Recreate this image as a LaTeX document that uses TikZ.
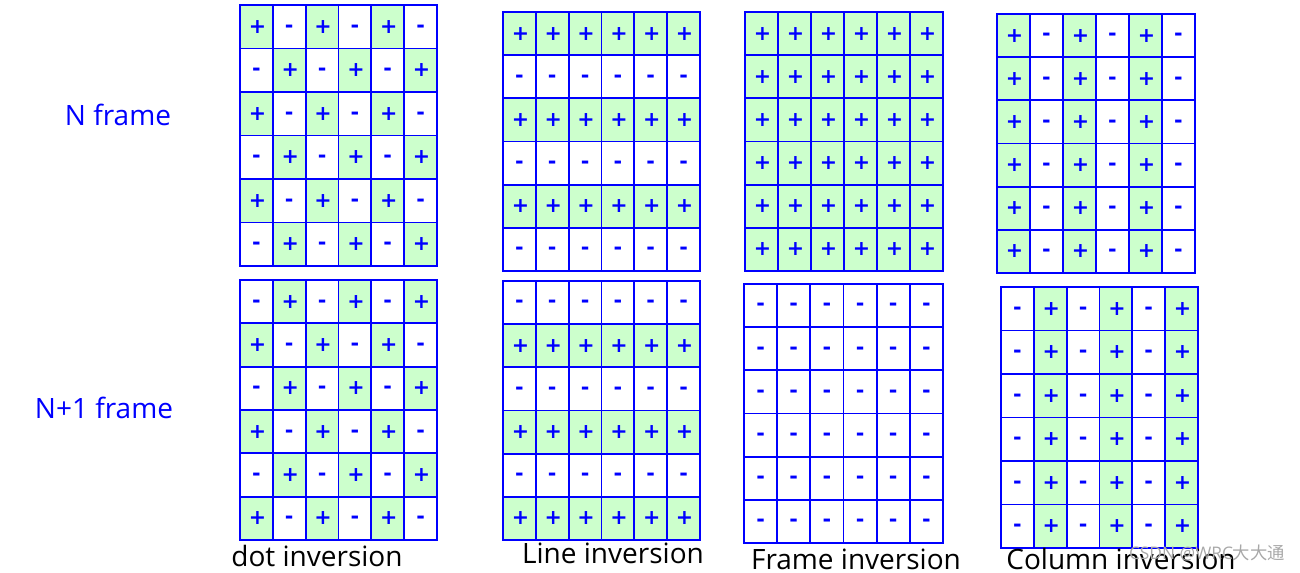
\documentclass[tikz,border=0pt]{standalone}
\usepackage{fontspec}
\setmainfont{Open Sans}
\newfontfamily\signfont{DejaVu Sans Bold}
\newfontfamily\cjkfont{Noto Sans CJK SC}
\definecolor{cellgreen}{HTML}{CCFFCC}
\definecolor{gridblue}{HTML}{0000FF}
\definecolor{wmgray}{HTML}{A8A8A8}
\newcommand\invgrid[6]{%
  \pgfmathsetmacro\cw{(#4-#2)/6}%
  \pgfmathsetmacro\ch{(#5-#3)/6}%
  \foreach \r in {0,...,5}{\foreach \c in {0,...,5}{%
    \pgfmathtruncatemacro\isplus{(#6==0)*(mod(\r+\c,2)==0)+(#6==1)*(mod(\r+\c,2)==1)+(#6==2)*(mod(\r,2)==0)+(#6==3)*(mod(\r,2)==1)+(#6==4)+(#6==6)*(mod(\c,2)==0)+(#6==7)*(mod(\c,2)==1)}%
    \ifnum\isplus=1
      \node[cell,fill=cellgreen,minimum width=\cw*0.75pt,minimum height=\ch*0.75pt] (#1-\r-\c) at ({#2+(\c+0.5)*\cw},{#3+(\r+0.5)*\ch}) {\vphantom{+}\hspace{1.5pt}+};
    \else
      \node[cell,fill=white,minimum width=\cw*0.75pt,minimum height=\ch*0.75pt] (#1-\r-\c) at ({#2+(\c+0.5)*\cw},{#3+(\r+0.5)*\ch}) {\vphantom{+}\raisebox{0.8pt}{-}};
    \fi
  }}%
}
\begin{document}
\begin{tikzpicture}[x=0.75pt,y=-0.75pt,
  cell/.style={draw=gridblue,line width=1.3pt,inner sep=0pt,outer sep=0pt,
    text=gridblue,font=\signfont\fontsize{15.5}{15.5}\selectfont},
  rowlabel/.style={text=gridblue,font=\fontsize{21}{24}\selectfont,inner sep=0pt},
  collabel/.style={text=black,font=\fontsize{21}{24}\selectfont,inner sep=0pt,anchor=base}]
\useasboundingbox (0,0) rectangle (1300,573);
% N frame
\invgrid{dotN}{240}{5}{437}{266}{0}
\invgrid{lineN}{503}{12}{700}{271}{2}
\invgrid{frameN}{745}{12}{943}{271}{4}
\invgrid{colN}{997}{14}{1195}{273}{6}
% N+1 frame
\invgrid{dotM}{240}{280}{437}{540}{1}
\invgrid{lineM}{503}{281}{700}{540}{3}
\invgrid{frameM}{744}{284}{943}{543}{5}
\invgrid{colM}{1001}{287}{1198}{548}{7}
% row labels
\node[rowlabel] (lblN) at (118,115) {N frame};
\node[rowlabel] (lblM) at (104,408) {N+1 frame};
% column labels
\node[collabel] (lblDot) at (317,566) {dot inversion};
\node[collabel] (lblLine) at (613,563) {Line inversion};
\node[collabel] (lblFrame) at (856,569) {Frame inversion};
\node[collabel] (lblCol) at (1121,569) {Column inversion};
% watermark
\node[text=wmgray,font=\fontsize{13}{14}\selectfont,inner sep=0pt] (wm) at (1207,553) {CSDN @WRC{\cjkfont 大大通}};
\end{tikzpicture}
\end{document}
